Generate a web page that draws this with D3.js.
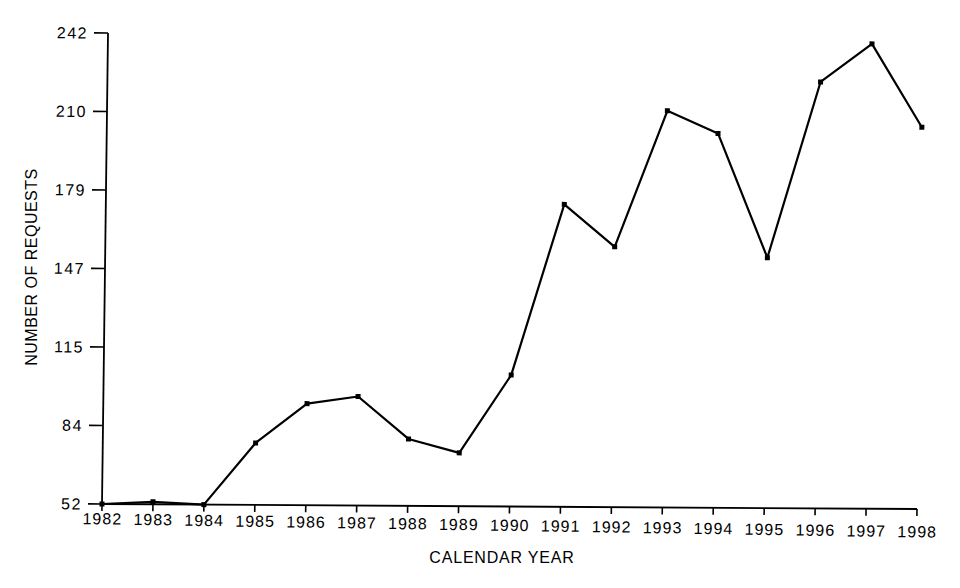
<!DOCTYPE html>
<html>
<head>
<meta charset="utf-8">
<script src="https://cdn.jsdelivr.net/npm/d3@7"></script>
<style>
  html, body { margin: 0; padding: 0; background: #fff; }
  svg { display: block; }
  text { font-family: "Liberation Sans", Arial, sans-serif; fill: #000; }
</style>
</head>
<body>
<svg id="chart" width="960" height="588"></svg>
<script>
// ---- data ----
const years = [1982, 1983, 1984, 1985, 1986, 1987, 1988, 1989, 1990,
               1991, 1992, 1993, 1994, 1995, 1996, 1997, 1998];
const requests = [52, 53, 52, 77, 93, 96, 79, 73.5, 105,
                  174, 157, 212, 203, 153, 224, 239.5, 206];
const yTickValues = [52, 83.667, 115.333, 147, 178.667, 210.333, 242];
const yTickLabels = ["52", "84", "115", "147", "179", "210", "242"];
const xTitle = "CALENDAR YEAR";
const yTitle = "NUMBER OF REQUESTS";

// ---- layout ----
const svg = d3.select("#chart");
const mLeft = 102, mRight = 917, mTop = 33, mBottom = 504;
const yTickLen = 14, xTickLen = 7;

const x = d3.scaleLinear().domain([1982, 1998]).range([mLeft, mRight]);
const y = d3.scaleLinear().domain([52, 242]).range([mBottom, mTop]);

// slight skew, like the scanned original
const kx = -6 / 471, ky = 5 / 817;
const g = svg.append("g")
  .attr("transform", `matrix(1,${ky},${kx},1,${-kx * mBottom},${-ky * mLeft})`);

// y axis (labels from d3 axis, lines drawn explicitly)
const yAxis = d3.axisLeft(y)
  .tickValues(yTickValues)
  .tickFormat((d, i) => yTickLabels[i])
  .tickSize(yTickLen)
  .tickSizeOuter(0)
  .tickPadding(6);
const gy = g.append("g").attr("transform", `translate(${mLeft},0)`).call(yAxis);
gy.select(".domain").remove();
gy.selectAll(".tick line").remove();
gy.selectAll("text")
  .style("font-size", "16px")
  .style("letter-spacing", "1.5px")
  .attr("fill", "#000");

// x axis
const xAxis = d3.axisBottom(x)
  .tickValues(years)
  .tickFormat(d3.format("d"))
  .tickSize(xTickLen)
  .tickSizeOuter(0)
  .tickPadding(2);
const gx = g.append("g").attr("transform", `translate(0,${mBottom})`).call(xAxis);
gx.select(".domain").remove();
gx.selectAll(".tick line").remove();
gx.selectAll("text")
  .style("font-size", "16px")
  .style("letter-spacing", "1px")
  .attr("fill", "#000")
  .attr("y", d => 9 + (x(d) - mLeft) / (mRight - mLeft) * 8);

// axis lines and ticks
g.append("line")
  .attr("x1", x(1982)).attr("x2", x(1982))
  .attr("y1", y(242)).attr("y2", y(52))
  .attr("stroke", "#000").attr("stroke-width", 1.8);
g.append("line")
  .attr("x1", x(1982)).attr("x2", x(1998))
  .attr("y1", y(52)).attr("y2", y(52))
  .attr("stroke", "#000").attr("stroke-width", 1.8);
g.selectAll("line.ytick")
  .data(yTickValues)
  .join("line")
  .attr("class", "ytick")
  .attr("x1", x(1982) - yTickLen).attr("x2", x(1982))
  .attr("y1", d => y(d)).attr("y2", d => y(d))
  .attr("stroke", "#000").attr("stroke-width", 1.6);
g.selectAll("line.xtick")
  .data(years)
  .join("line")
  .attr("class", "xtick")
  .attr("x1", d => x(d)).attr("x2", d => x(d))
  .attr("y1", y(52)).attr("y2", y(52) + xTickLen)
  .attr("stroke", "#000").attr("stroke-width", 1.6);

// line
const line = d3.line().x((d, i) => x(years[i])).y(d => y(d));
g.append("path")
  .datum(requests)
  .attr("fill", "none")
  .attr("stroke", "#000")
  .attr("stroke-width", 2.2)
  .attr("stroke-linejoin", "round")
  .attr("d", line);

// markers
g.selectAll("rect.pt")
  .data(requests)
  .join("rect")
  .attr("class", "pt")
  .attr("x", (d, i) => x(years[i]) - 2.5)
  .attr("y", d => y(d) - 2.5)
  .attr("width", 5)
  .attr("height", 5)
  .attr("fill", "#000");

// titles
svg.append("text")
  .attr("x", 502)
  .attr("y", 563)
  .attr("text-anchor", "middle")
  .style("font-size", "16px")
  .style("letter-spacing", "0.8px")
  .text(xTitle);

svg.append("text")
  .attr("transform", "translate(37,267) rotate(-90)")
  .attr("text-anchor", "middle")
  .style("font-size", "16px")
  .style("letter-spacing", "0.5px")
  .text(yTitle);
</script>
</body>
</html>
